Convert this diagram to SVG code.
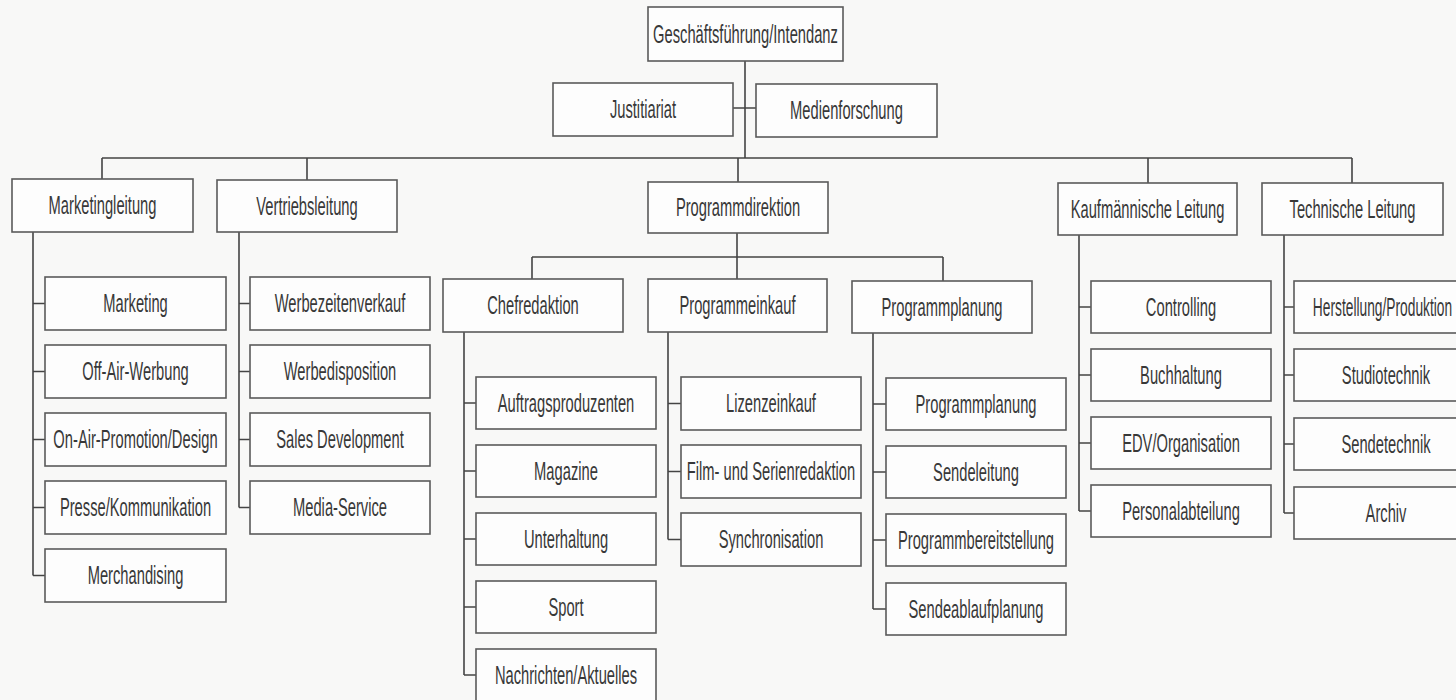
<svg xmlns="http://www.w3.org/2000/svg" width="1456" height="700" viewBox="0 0 1456 700">
<style>
.bg{fill:#f8f8f7}
rect.b{fill:#fdfdfd;stroke:#5a5a5a;stroke-width:1.6}
text{font-family:"Liberation Sans",Arial,sans-serif;font-size:26px;fill:#383838;text-anchor:middle}
.c{fill:none;stroke:#444;stroke-width:1.6}
</style>
<rect class="bg" x="0" y="0" width="1456" height="700"/>
<g id="connectors">
<path class="c" d="M745,61V158 M733,108H756 M102,158H1352 M102,158V179 M307,158V180 M738,158V182 M1148,158V183 M1352,158V183"/>
<path class="c" d="M33,232V575.5 M33,303.5H45 M33,371.5H45 M33,439.5H45 M33,507.5H45 M33,575.5H45"/>
<path class="c" d="M239,232V507.5 M239,303.5H250 M239,371.5H250 M239,439.5H250 M239,507.5H250"/>
<path class="c" d="M737,233V279 M532,257H943 M532,257V279 M943,257V281"/>
<path class="c" d="M464,332V675 M464,403H476 M464,471H476 M464,539H476 M464,607H476 M464,675H476"/>
<path class="c" d="M668,332V539.5 M668,403.5H681 M668,471.5H681 M668,539.5H681"/>
<path class="c" d="M873,333V609 M873,404H886 M873,472H886 M873,540H886 M873,609H886"/>
<path class="c" d="M1079,235V511 M1079,307H1091 M1079,375H1091 M1079,443H1091 M1079,511H1091"/>
<path class="c" d="M1284,235V513 M1284,307H1294 M1284,375H1294 M1284,444H1294 M1284,513H1294"/>
</g>
<g id="n-gf"><rect class="b" x="648" y="7" width="195" height="54"/><text transform="translate(745.5,42.5) scale(0.566,1)">Geschäftsführung/Intendanz</text></g>
<g id="n-just"><rect class="b" x="553" y="83" width="180" height="53"/><text transform="translate(643,118) scale(0.566,1)">Justitiariat</text></g>
<g id="n-medien"><rect class="b" x="756" y="84" width="181" height="53"/><text transform="translate(846.5,119) scale(0.566,1)">Medienforschung</text></g>

<g id="n-mkl"><rect class="b" x="12" y="179" width="181" height="53"/><text transform="translate(102.5,214) scale(0.566,1)">Marketingleitung</text></g>
<g id="n-vtl"><rect class="b" x="217" y="180" width="180" height="52"/><text transform="translate(307,214.5) scale(0.566,1)">Vertriebsleitung</text></g>
<g id="n-pd"><rect class="b" x="648" y="182" width="180" height="51"/><text transform="translate(738,216) scale(0.566,1)">Programmdirektion</text></g>
<g id="n-kl"><rect class="b" x="1058" y="183" width="179" height="52"/><text transform="translate(1147.5,217.5) scale(0.566,1)">Kaufmännische Leitung</text></g>
<g id="n-tl"><rect class="b" x="1262" y="183" width="181" height="52"/><text transform="translate(1352.5,217.5) scale(0.566,1)">Technische Leitung</text></g>

<g id="n-marketing"><rect class="b" x="45" y="277" width="181" height="53"/><text transform="translate(135.5,312) scale(0.566,1)">Marketing</text></g>
<g id="n-offair"><rect class="b" x="45" y="345" width="181" height="53"/><text transform="translate(135.5,380) scale(0.566,1)">Off-Air-Werbung</text></g>
<g id="n-onair"><rect class="b" x="45" y="413" width="181" height="53"/><text transform="translate(135.5,448) scale(0.566,1)">On-Air-Promotion/Design</text></g>
<g id="n-presse"><rect class="b" x="45" y="481" width="181" height="53"/><text transform="translate(135.5,516) scale(0.566,1)">Presse/Kommunikation</text></g>
<g id="n-merch"><rect class="b" x="45" y="549" width="181" height="53"/><text transform="translate(135.5,584) scale(0.566,1)">Merchandising</text></g>

<g id="n-wzv"><rect class="b" x="250" y="277" width="180" height="53"/><text transform="translate(340,312) scale(0.566,1)">Werbezeitenverkauf</text></g>
<g id="n-wd"><rect class="b" x="250" y="345" width="180" height="53"/><text transform="translate(340,380) scale(0.566,1)">Werbedisposition</text></g>
<g id="n-sd"><rect class="b" x="250" y="413" width="180" height="53"/><text transform="translate(340,448) scale(0.566,1)">Sales Development</text></g>
<g id="n-ms"><rect class="b" x="250" y="481" width="180" height="53"/><text transform="translate(340,516) scale(0.566,1)">Media-Service</text></g>

<g id="n-chef"><rect class="b" x="443" y="279" width="180" height="53"/><text transform="translate(533,314) scale(0.566,1)">Chefredaktion</text></g>
<g id="n-pek"><rect class="b" x="648" y="279" width="179" height="53"/><text transform="translate(737.5,314) scale(0.566,1)">Programmeinkauf</text></g>
<g id="n-ppl"><rect class="b" x="852" y="281" width="180" height="52"/><text transform="translate(942,315.5) scale(0.566,1)">Programmplanung</text></g>

<g id="n-auftrag"><rect class="b" x="476" y="377" width="180" height="52"/><text transform="translate(566,411.5) scale(0.566,1)">Auftragsproduzenten</text></g>
<g id="n-magazine"><rect class="b" x="476" y="445" width="180" height="52"/><text transform="translate(566,479.5) scale(0.566,1)">Magazine</text></g>
<g id="n-unterh"><rect class="b" x="476" y="513" width="180" height="52"/><text transform="translate(566,547.5) scale(0.566,1)">Unterhaltung</text></g>
<g id="n-sport"><rect class="b" x="476" y="581" width="180" height="52"/><text transform="translate(566,615.5) scale(0.566,1)">Sport</text></g>
<g id="n-nachr"><rect class="b" x="476" y="649" width="180" height="52"/><text transform="translate(566,683.5) scale(0.566,1)">Nachrichten/Aktuelles</text></g>

<g id="n-lizenz"><rect class="b" x="681" y="377" width="180" height="53"/><text transform="translate(771,412) scale(0.566,1)">Lizenzeinkauf</text></g>
<g id="n-film"><rect class="b" x="681" y="445" width="180" height="53"/><text transform="translate(771,480) scale(0.566,1)">Film- und Serienredaktion</text></g>
<g id="n-synch"><rect class="b" x="681" y="513" width="180" height="53"/><text transform="translate(771,548) scale(0.566,1)">Synchronisation</text></g>

<g id="n-ppl2"><rect class="b" x="886" y="378" width="180" height="52"/><text transform="translate(976,412.5) scale(0.566,1)">Programmplanung</text></g>
<g id="n-sendel"><rect class="b" x="886" y="446" width="180" height="52"/><text transform="translate(976,480.5) scale(0.566,1)">Sendeleitung</text></g>
<g id="n-pbs"><rect class="b" x="886" y="514" width="180" height="52"/><text transform="translate(976,548.5) scale(0.566,1)">Programmbereitstellung</text></g>
<g id="n-sap"><rect class="b" x="886" y="583" width="180" height="52"/><text transform="translate(976,617.5) scale(0.566,1)">Sendeablaufplanung</text></g>

<g id="n-contr"><rect class="b" x="1091" y="281" width="180" height="52"/><text transform="translate(1181,315.5) scale(0.566,1)">Controlling</text></g>
<g id="n-buch"><rect class="b" x="1091" y="349" width="180" height="52"/><text transform="translate(1181,383.5) scale(0.566,1)">Buchhaltung</text></g>
<g id="n-edv"><rect class="b" x="1091" y="417" width="180" height="52"/><text transform="translate(1181,451.5) scale(0.566,1)">EDV/Organisation</text></g>
<g id="n-pers"><rect class="b" x="1091" y="485" width="180" height="52"/><text transform="translate(1181,519.5) scale(0.566,1)">Personalabteilung</text></g>

<g id="n-herst"><rect class="b" x="1294" y="281" width="184" height="52"/><text transform="translate(1382.5,315.5) scale(0.53,1)">Herstellung/Produktion</text></g>
<g id="n-studio"><rect class="b" x="1294" y="349" width="184" height="52"/><text transform="translate(1386,383.5) scale(0.566,1)">Studiotechnik</text></g>
<g id="n-sendet"><rect class="b" x="1294" y="418" width="184" height="52"/><text transform="translate(1386,452.5) scale(0.566,1)">Sendetechnik</text></g>
<g id="n-archiv"><rect class="b" x="1294" y="487" width="184" height="52"/><text transform="translate(1386,521.5) scale(0.566,1)">Archiv</text></g>
</svg>
